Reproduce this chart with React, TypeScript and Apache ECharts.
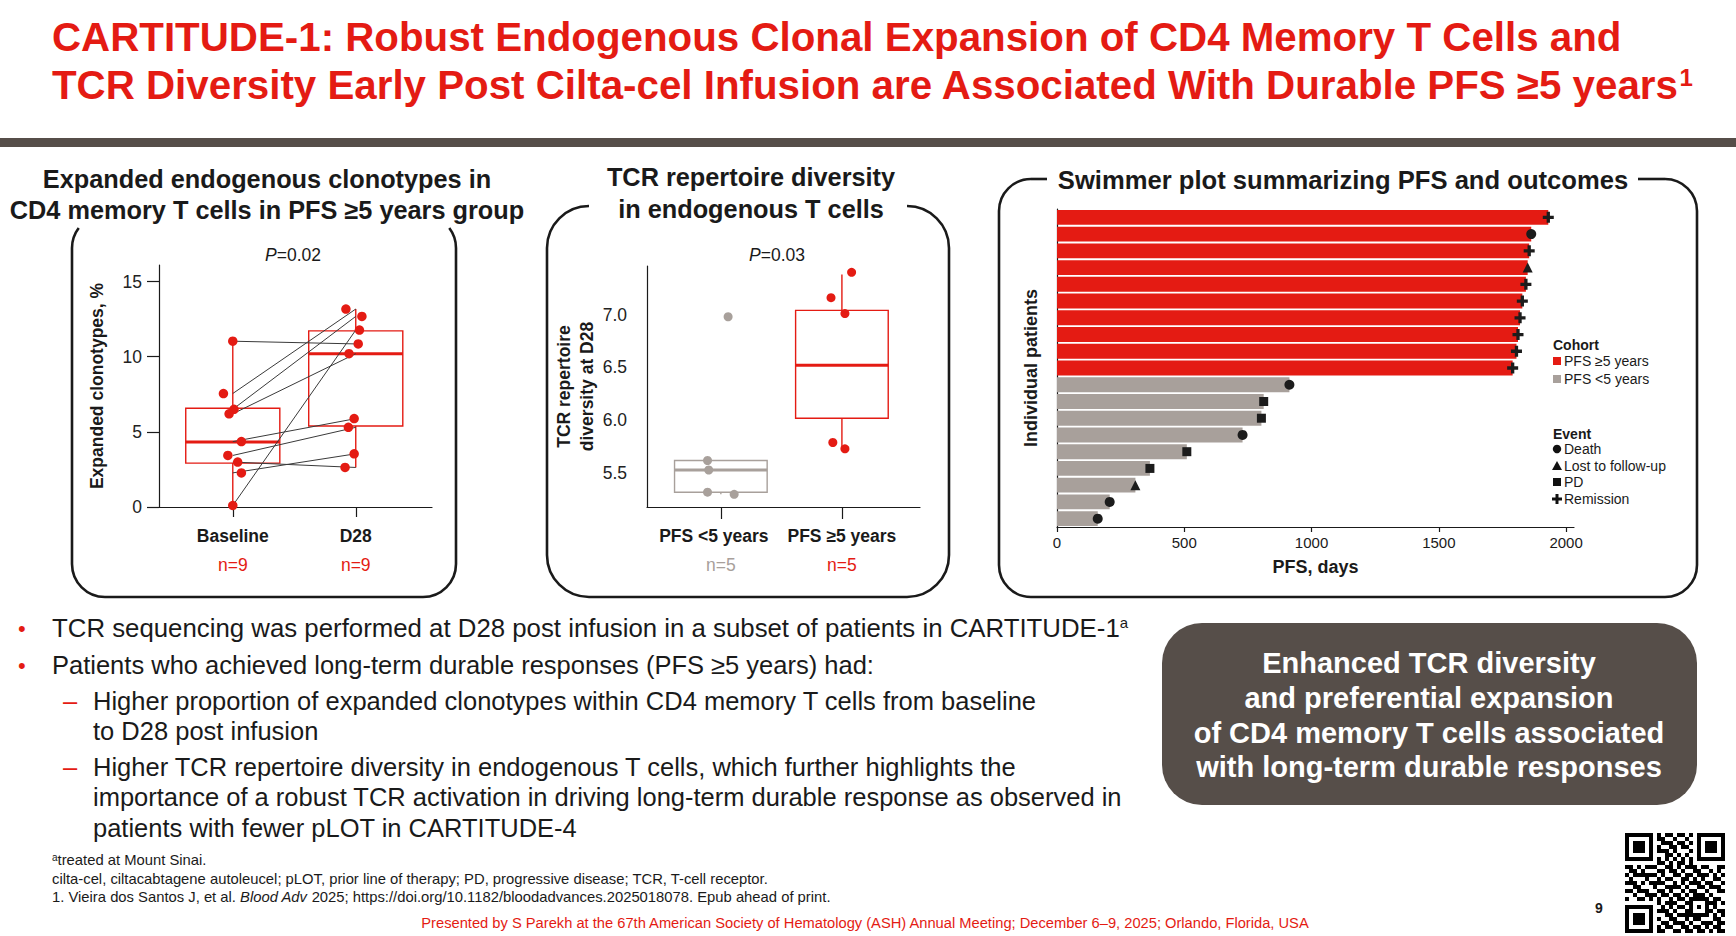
import React, { useEffect, useRef } from 'react';
import * as echarts from 'echarts';

const RED = '#e41b13';
const GRAY = '#a8a09b';
const DARK = '#564e49';
const INK = '#1a1a1a';
const FONT = '"Liberation Sans", Arial, Helvetica, sans-serif';

// ---------- Panel 1: expanded clonotypes (paired by patient) ----------
const clonoCategories = ['Baseline', 'D28'];
const clonoCounts = ['n=9', 'n=9'];
const clonoTicks = [0, 5, 10, 15];
const clonoBaseline = [11.03, 7.55, 6.5, 6.2, 4.35, 3.43, 2.99, 2.27, 0.1];
const clonoD28 = [10.85, 13.17, 12.68, 10.2, 5.88, 5.3, 2.63, 3.54, 11.77];
const clonoBaselineJitter = [0, -0.076, 0.01, -0.03, 0.07, -0.04, 0.04, 0.07, 0];
const clonoD28Jitter = [0.02, -0.08, 0.05, -0.055, -0.013, -0.06, -0.087, -0.013, 0.03];
const clonoBaselineBox = [0.1, 2.92, 4.32, 6.57, 11.03];
const clonoD28Box = [2.63, 5.39, 10.19, 11.72, 13.17];

// ---------- Panel 2: TCR repertoire diversity ----------
const divCategories = ['PFS <5 years', 'PFS ≥5 years'];
const divCounts = ['n=5', 'n=5'];
const divTicks = [5.5, 6.0, 6.5, 7.0];
const divShort = [6.98, 5.62, 5.53, 5.32, 5.3];
const divShortJitter = [0.06, -0.11, -0.1, -0.11, 0.11];
const divLong = [7.4, 7.16, 7.01, 5.79, 5.73];
const divLongJitter = [0.08, -0.09, 0.025, -0.075, 0.025];
const divShortBox = [5.3, 5.32, 5.53, 5.62, 5.62];
const divLongBox = [5.73, 6.02, 6.52, 7.04, 7.38];

// ---------- Panel 3: swimmer plot ----------
const patients = ['1', '2', '3', '4', '5', '6', '7', '8', '9', '10', '11', '12', '13', '14', '15', '16', '17', '18', '19'];
const pfsDays = [1930, 1863, 1855, 1849, 1842, 1828, 1819, 1811, 1805, 1790, 913, 812, 803, 729, 510, 365, 308, 207, 160];
const cohorts = ['≥5', '≥5', '≥5', '≥5', '≥5', '≥5', '≥5', '≥5', '≥5', '≥5', '<5', '<5', '<5', '<5', '<5', '<5', '<5', '<5', '<5'];
const events = ['Remission', 'Death', 'Remission', 'Lost to follow-up', 'Remission', 'Remission', 'Remission', 'Remission', 'Remission', 'Remission', 'Death', 'PD', 'PD', 'Death', 'PD', 'PD', 'Lost to follow-up', 'Death', 'Death'];
const pfsTicks = [0, 500, 1000, 1500, 2000];
const eventTypes = ['Death', 'Lost to follow-up', 'PD', 'Remission'];
const cohortLabels = ['PFS ≥5 years', 'PFS <5 years'];

const PLUS = 'path://M3.5,0H6.5V3.5H10V6.5H6.5V10H3.5V6.5H0V3.5H3.5Z';
const eventSymbols: Record<string, string> = { Death: 'circle', 'Lost to follow-up': 'triangle', PD: 'rect', Remission: PLUS };

const QR_ROWS = [
  '1111111010110110101111111',
  '1000001011001001001000001',
  '1011101001110110101011101',
  '1011101010011011001011101',
  '1011101011101000101011101',
  '1000001000110101001000001',
  '1111111010101010101111111',
  '0000000011010110100000000',
  '1101011100110101110110011',
  '0110100011011010011001010',
  '1011111101001101101110101',
  '0100010010110011010100110',
  '1110101111001010111011001',
  '0011000100111101001101110',
  '1101110011010010110010011',
  '0010011101101101011101000',
  '1001101010010110111110110',
  '0000000010111001100011101',
  '1111111001010110101010100',
  '1000001011101001100011011',
  '1011101000110111111110101',
  '1011101010011001011000110',
  '1011101001101110100111011',
  '1000001010110011011010110',
  '1111111011001101101101011',
];

const BOX_W = 0.765;

function boxRenderer(colors: string[]) {
  return (params: any, api: any) => {
    const x = api.value(0);
    const pLo = api.coord([x, api.value(1)]);
    const pQ1 = api.coord([x, api.value(2)]);
    const pMed = api.coord([x, api.value(3)]);
    const pQ3 = api.coord([x, api.value(4)]);
    const pHi = api.coord([x, api.value(5)]);
    const w = api.size([BOX_W, 0])[0];
    const c = colors[params.dataIndex];
    const cx = pMed[0];
    return {
      type: 'group',
      children: [
        { type: 'line', shape: { x1: cx, y1: pLo[1], x2: cx, y2: pQ1[1] }, style: { stroke: c, lineWidth: 1.4 } },
        { type: 'line', shape: { x1: cx, y1: pQ3[1], x2: cx, y2: pHi[1] }, style: { stroke: c, lineWidth: 1.4 } },
        { type: 'rect', shape: { x: cx - w / 2, y: pQ3[1], width: w, height: pQ1[1] - pQ3[1] }, style: { fill: 'rgba(255,255,255,0)', stroke: c, lineWidth: 1.4 } },
        { type: 'line', shape: { x1: cx - w / 2, y1: pMed[1], x2: cx + w / 2, y2: pMed[1] }, style: { stroke: c, lineWidth: 3 } },
      ],
    };
  };
}

function txt(x: number, y: number, text: string, o: any = {}) {
  return {
    type: 'text',
    x,
    y,
    silent: true,
    z: 10,
    style: {
      text,
      fill: o.fill ?? INK,
      fontFamily: FONT,
      fontSize: o.size ?? 16,
      fontWeight: o.weight ?? 'normal',
      fontStyle: o.style ?? 'normal',
      align: o.align ?? 'left',
      verticalAlign: 'middle',
      rich: o.rich,
    },
  };
}

function frame(x0: number, y0: number, x1: number, y1: number, r: number, o: any) {
  const st = { stroke: INK, lineWidth: 2.6, fill: 'rgba(0,0,0,0)' };
  const els: any[] = [];
  const topArc = o.topArc ?? Math.PI / 2;
  els.push({ type: 'line', shape: { x1: x0, y1: y0 + r, x2: x0, y2: y1 - r }, style: st });
  els.push({ type: 'line', shape: { x1: x1, y1: y0 + r, x2: x1, y2: y1 - r }, style: st });
  els.push({ type: 'line', shape: { x1: x0 + r, y1: y1, x2: x1 - r, y2: y1 }, style: st });
  els.push({ type: 'arc', shape: { cx: x0 + r, cy: y1 - r, r, startAngle: Math.PI / 2, endAngle: Math.PI }, style: st });
  els.push({ type: 'arc', shape: { cx: x1 - r, cy: y1 - r, r, startAngle: 0, endAngle: Math.PI / 2 }, style: st });
  els.push({ type: 'arc', shape: { cx: x0 + r, cy: y0 + r, r, startAngle: Math.PI, endAngle: Math.PI + topArc }, style: st });
  els.push({ type: 'arc', shape: { cx: x1 - r, cy: y0 + r, r, startAngle: 2 * Math.PI - topArc, endAngle: 2 * Math.PI }, style: st });
  if (o.gapL != null) {
    els.push({ type: 'line', shape: { x1: x0 + r, y1: y0, x2: o.gapL, y2: y0 }, style: st });
    els.push({ type: 'line', shape: { x1: o.gapR, y1: y0, x2: x1 - r, y2: y0 }, style: st });
  }
  return els.map((e) => ({ ...e, silent: true, z: 5 }));
}

function qrElements(x: number, y: number, cell: number) {
  const n = QR_ROWS.length;
  const bit = (r: number, c: number) => {
    const finders = [[0, 0], [0, n - 7], [n - 7, 0]];
    for (const [fr, fc] of finders) {
      if (r >= fr - 1 && r <= fr + 7 && c >= fc - 1 && c <= fc + 7) {
        const d = Math.max(Math.abs(r - fr - 3), Math.abs(c - fc - 3));
        return d <= 3 && d !== 2;
      }
    }
    const da = Math.max(Math.abs(r - (n - 7)), Math.abs(c - (n - 7)));
    if (da <= 2) return da !== 1;
    return QR_ROWS[r][c] === '1';
  };
  const els: any[] = [];
  for (let r = 0; r < n; r++) {
    let c = 0;
    while (c < n) {
      if (bit(r, c)) {
        let e = c;
        while (e + 1 < n && bit(r, e + 1)) e++;
        els.push({ type: 'rect', silent: true, shape: { x: x + c * cell, y: y + r * cell, width: (e - c + 1) * cell, height: cell }, style: { fill: '#000' } });
        c = e + 1;
      } else c++;
    }
  }
  return els;
}

function buildOption() {
  const axisLabelRich = {
    c: { fontFamily: FONT, fontWeight: 'bold', fontSize: 17.5, color: INK, lineHeight: 29 },
    c0: { fontFamily: FONT, fontWeight: 'bold', fontSize: 17.5, color: INK, lineHeight: 29, padding: [0, 14, 0, 0] },
    r: { fontFamily: FONT, fontSize: 17.5, color: RED, lineHeight: 29 },
    g: { fontFamily: FONT, fontSize: 17.5, color: GRAY, lineHeight: 29 },
  };
  const axisLineStyle = { color: INK, width: 1.2 };

  const pairLines = clonoBaseline.map((b, i) => ({
    type: 'line',
    xAxisIndex: 0,
    yAxisIndex: 0,
    data: [[1, b], [2, clonoD28[i]]],
    symbol: 'none',
    silent: true,
    lineStyle: { color: '#3a3a3a', width: 1 },
    z: 3,
  }));

  const eventSeries = eventTypes.map((t) => ({
    type: 'scatter',
    name: t,
    xAxisIndex: 2,
    yAxisIndex: 2,
    symbol: eventSymbols[t],
    symbolSize: t === 'Remission' ? 11 : t === 'PD' ? 9 : 10,
    itemStyle: { color: '#1c1c1c', opacity: 1 },
    data: events.map((e, i) => (e === t ? [pfsDays[i], i] : null)).filter((d) => d !== null),
    z: 6,
    silent: true,
  }));

  const graphics: any[] = [];
  // header
  graphics.push({ type: 'rect', silent: true, shape: { x: 0, y: 138, width: 1736, height: 9 }, style: { fill: DARK } });
  graphics.push(txt(52, 37, 'CARTITUDE-1: Robust Endogenous Clonal Expansion of CD4 Memory T Cells and', { size: 40.3, weight: 'bold', fill: RED }));
  graphics.push(
    txt(52, 85, 'TCR Diversity Early Post Cilta-cel Infusion are Associated With Durable PFS ≥5 years{s|1}', {
      size: 40.3,
      weight: 'bold',
      fill: RED,
      rich: { s: { fontSize: 24, fontWeight: 'bold', fill: RED, fontFamily: FONT, verticalAlign: 'top' } },
    })
  );
  // panel frames
  graphics.push(...frame(72, 215, 456, 597, 33, { topArc: 0.65 }));
  graphics.push(...frame(547, 206, 949, 597, 42, {}));
  graphics.push(...frame(999, 179, 1697, 597, 32, { gapL: 1047, gapR: 1638 }));
  // panel titles
  graphics.push(txt(267, 179, 'Expanded endogenous clonotypes in', { size: 25.3, weight: 'bold', align: 'center' }));
  graphics.push(txt(267, 210, 'CD4 memory T cells in PFS ≥5 years group', { size: 25.3, weight: 'bold', align: 'center' }));
  graphics.push(txt(751, 177, 'TCR repertoire diversity', { size: 25.3, weight: 'bold', align: 'center' }));
  graphics.push(txt(751, 209, 'in endogenous T cells', { size: 25.3, weight: 'bold', align: 'center' }));
  graphics.push(txt(1343, 180, 'Swimmer plot summarizing PFS and outcomes', { size: 25.6, weight: 'bold', align: 'center' }));
  // p-values
  const itRich = { i: { fontStyle: 'italic', fontSize: 17.5, fontFamily: FONT, fill: INK } };
  graphics.push(txt(293, 255, '{i|P}=0.02', { size: 17.5, align: 'center', rich: itRich }));
  graphics.push(txt(777, 255, '{i|P}=0.03', { size: 17.5, align: 'center', rich: itRich }));
  // swimmer legend
  graphics.push(txt(1553, 345, 'Cohort', { size: 14, weight: 'bold' }));
  graphics.push({ type: 'rect', silent: true, shape: { x: 1553, y: 357, width: 8, height: 8 }, style: { fill: RED } });
  graphics.push(txt(1564, 361, cohortLabels[0], { size: 14 }));
  graphics.push({ type: 'rect', silent: true, shape: { x: 1553, y: 375, width: 8, height: 8 }, style: { fill: GRAY } });
  graphics.push(txt(1564, 379, cohortLabels[1], { size: 14 }));
  graphics.push(txt(1553, 434, 'Event', { size: 14, weight: 'bold' }));
  const evY = [449, 466, 482, 499];
  graphics.push({ type: 'circle', silent: true, shape: { cx: 1557, cy: evY[0], r: 4.2 }, style: { fill: '#111' } });
  graphics.push({ type: 'polygon', silent: true, shape: { points: [[1557, evY[1] - 5], [1562, evY[1] + 4], [1552, evY[1] + 4]] }, style: { fill: '#111' } });
  graphics.push({ type: 'rect', silent: true, shape: { x: 1553, y: evY[2] - 4, width: 8, height: 8 }, style: { fill: '#111' } });
  graphics.push({ type: 'rect', silent: true, shape: { x: 1552, y: evY[3] - 1.5, width: 10, height: 3 }, style: { fill: '#111' } });
  graphics.push({ type: 'rect', silent: true, shape: { x: 1555.5, y: evY[3] - 5, width: 3, height: 10 }, style: { fill: '#111' } });
  eventTypes.forEach((t, i) => graphics.push(txt(1564, evY[i], t, { size: 14 })));
  // bullets
  const B = 25.5;
  const supRich = { s: { fontSize: 15, fontFamily: FONT, fill: INK, verticalAlign: 'top' } };
  graphics.push(txt(18, 628, '•', { size: 22, fill: RED }));
  graphics.push(txt(52, 628, 'TCR sequencing was performed at D28 post infusion in a subset of patients in CARTITUDE-1{s|a}', { size: 25.8, rich: supRich }));
  graphics.push(txt(18, 665, '•', { size: 22, fill: RED }));
  graphics.push(txt(52, 665, 'Patients who achieved long-term durable responses (PFS ≥5 years) had:', { size: B }));
  graphics.push(txt(63, 701, '–', { size: B, fill: RED }));
  graphics.push(txt(93, 701, 'Higher proportion of expanded clonotypes within CD4 memory T cells from baseline', { size: B }));
  graphics.push(txt(93, 731, 'to D28 post infusion', { size: B }));
  graphics.push(txt(63, 767, '–', { size: B, fill: RED }));
  graphics.push(txt(93, 767, 'Higher TCR repertoire diversity in endogenous T cells, which further highlights the', { size: B }));
  graphics.push(txt(93, 797, 'importance of a robust TCR activation in driving long-term durable response as observed in', { size: B }));
  graphics.push(txt(93, 828, 'patients with fewer pLOT in CARTITUDE-4', { size: B }));
  // callout
  graphics.push({ type: 'rect', silent: true, shape: { x: 1162, y: 623, width: 535, height: 182, r: 40 }, style: { fill: DARK } });
  ['Enhanced TCR diversity', 'and preferential expansion', 'of CD4 memory T cells associated', 'with long-term durable responses'].forEach((l, i) =>
    graphics.push(txt(1429, [663, 698, 733, 767][i], l, { size: 29, weight: 'bold', fill: '#ffffff', align: 'center' }))
  );
  // footnotes
  const FN = 14.8;
  const fnRich = {
    s: { fontSize: 10, fontFamily: FONT, fill: INK, verticalAlign: 'top' },
    i: { fontSize: FN, fontFamily: FONT, fill: INK, fontStyle: 'italic' },
  };
  graphics.push(txt(52, 860, '{s|a}treated at Mount Sinai.', { size: FN, rich: fnRich }));
  graphics.push(txt(52, 879, 'cilta-cel, ciltacabtagene autoleucel; pLOT, prior line of therapy; PD, progressive disease; TCR, T-cell receptor.', { size: FN }));
  graphics.push(txt(52, 897, '1. Vieira dos Santos J, et al. {i|Blood Adv} 2025; https://doi.org/10.1182/bloodadvances.2025018078. Epub ahead of print.', { size: FN, rich: fnRich }));
  graphics.push(txt(865, 923, 'Presented by S Parekh at the 67th American Society of Hematology (ASH) Annual Meeting; December 6–9, 2025; Orlando, Florida, USA', { size: 14.7, fill: RED, align: 'center' }));
  graphics.push(txt(1599, 908, '9', { size: 14, weight: 'bold', align: 'center' }));
  graphics.push(...qrElements(1625, 833, 4));

  return {
    animation: false,
    backgroundColor: '#ffffff',
    textStyle: { fontFamily: FONT },
    grid: [
      { left: 159, top: 265, width: 273, height: 242 },
      { left: 647, top: 266, width: 273, height: 241 },
      { left: 1057, top: 209, width: 517, height: 318 },
    ],
    xAxis: [
      {
        gridIndex: 0,
        type: 'value',
        min: 0.4,
        max: 2.62,
        splitLine: { show: false },
        axisLine: { show: true, lineStyle: axisLineStyle },
        axisTick: { show: true, customValues: [1, 2], length: 10, lineStyle: axisLineStyle },
        axisLabel: {
          customValues: [1, 2],
          margin: 14,
          formatter: (v: number) => {
            const i = Math.round(v) - 1;
            return `{c|${clonoCategories[i]}}\n{r|${clonoCounts[i]}}`;
          },
          rich: axisLabelRich,
        },
      },
      {
        gridIndex: 1,
        type: 'value',
        min: 0.39,
        max: 2.645,
        splitLine: { show: false },
        axisLine: { show: true, lineStyle: axisLineStyle },
        axisTick: { show: true, customValues: [1, 2], length: 12, lineStyle: axisLineStyle },
        axisLabel: {
          customValues: [1, 2],
          margin: 14,
          formatter: (v: number) => {
            const i = Math.round(v) - 1;
            return `{${i === 0 ? 'c0' : 'c'}|${divCategories[i]}}\n{${i === 0 ? 'g' : 'r'}|${divCounts[i]}}`;
          },
          rich: axisLabelRich,
        },
      },
      {
        gridIndex: 2,
        type: 'value',
        min: 0,
        max: 2031,
        name: 'PFS, days',
        nameLocation: 'middle',
        nameGap: 31,
        nameTextStyle: { fontFamily: FONT, fontWeight: 'bold', fontSize: 18, color: INK },
        splitLine: { show: false },
        axisLine: { show: true, lineStyle: axisLineStyle },
        axisTick: { show: true, customValues: pfsTicks, length: 5, lineStyle: axisLineStyle },
        axisLabel: { customValues: pfsTicks, margin: 8, fontSize: 15, color: INK, fontFamily: FONT, formatter: (v: number) => String(v) },
      },
    ],
    yAxis: [
      {
        gridIndex: 0,
        type: 'value',
        min: 0,
        max: 16.1,
        name: 'Expanded clonotypes, %',
        nameLocation: 'middle',
        nameGap: 53,
        nameTextStyle: { fontFamily: FONT, fontWeight: 'bold', fontSize: 17.5, color: INK },
        splitLine: { show: false },
        axisLine: { show: true, lineStyle: axisLineStyle },
        axisTick: { show: true, customValues: clonoTicks, length: 12, lineStyle: axisLineStyle },
        axisLabel: { customValues: clonoTicks, margin: 17, fontSize: 17.5, color: '#222', fontFamily: FONT },
      },
      {
        gridIndex: 1,
        type: 'value',
        min: 5.18,
        max: 7.46,
        name: 'TCR repertoire\ndiversity at D28',
        nameLocation: 'middle',
        nameGap: 43,
        nameTextStyle: { fontFamily: FONT, fontWeight: 'bold', fontSize: 17.5, color: INK, lineHeight: 23 },
        splitLine: { show: false },
        axisLine: { show: true, lineStyle: axisLineStyle },
        axisTick: { show: false },
        axisLabel: { customValues: divTicks, margin: 20, fontSize: 17.5, color: '#222', fontFamily: FONT, formatter: (v: number) => v.toFixed(1) },
      },
      {
        gridIndex: 2,
        type: 'category',
        data: patients,
        inverse: true,
        name: 'Individual patients',
        nameLocation: 'middle',
        nameGap: 17,
        nameTextStyle: { fontFamily: FONT, fontWeight: 'bold', fontSize: 18, color: INK },
        axisLine: { show: true, lineStyle: axisLineStyle },
        axisTick: { show: false },
        axisLabel: { show: false },
        splitLine: { show: false },
      },
    ],
    series: [
      {
        type: 'custom',
        xAxisIndex: 0,
        yAxisIndex: 0,
        renderItem: boxRenderer([RED, RED]),
        encode: { x: 0, y: [1, 2, 3, 4, 5] },
        data: [[1, ...clonoBaselineBox], [2, ...clonoD28Box]],
        silent: true,
        z: 2,
      },
      ...pairLines,
      {
        type: 'scatter',
        xAxisIndex: 0,
        yAxisIndex: 0,
        data: clonoBaseline.map((v, i) => [1 + clonoBaselineJitter[i], v]),
        symbolSize: 9.5,
        itemStyle: { color: RED, opacity: 1 },
        z: 4,
        silent: true,
      },
      {
        type: 'scatter',
        xAxisIndex: 0,
        yAxisIndex: 0,
        data: clonoD28.map((v, i) => [2 + clonoD28Jitter[i], v]),
        symbolSize: 9.5,
        itemStyle: { color: RED, opacity: 1 },
        z: 4,
        silent: true,
      },
      {
        type: 'custom',
        xAxisIndex: 1,
        yAxisIndex: 1,
        renderItem: boxRenderer([GRAY, RED]),
        encode: { x: 0, y: [1, 2, 3, 4, 5] },
        data: [[1, ...divShortBox], [2, ...divLongBox]],
        silent: true,
        z: 2,
      },
      {
        type: 'scatter',
        xAxisIndex: 1,
        yAxisIndex: 1,
        data: divShort.map((v, i) => [1 + divShortJitter[i], v]),
        symbolSize: 9,
        itemStyle: { color: GRAY, opacity: 1 },
        z: 4,
        silent: true,
      },
      {
        type: 'scatter',
        xAxisIndex: 1,
        yAxisIndex: 1,
        data: divLong.map((v, i) => [2 + divLongJitter[i], v]),
        symbolSize: 9,
        itemStyle: { color: RED, opacity: 1 },
        z: 4,
        silent: true,
      },
      {
        type: 'bar',
        xAxisIndex: 2,
        yAxisIndex: 2,
        barCategoryGap: '11%',
        silent: true,
        data: pfsDays.map((v, i) => ({ value: v, itemStyle: { color: cohorts[i] === '≥5' ? RED : GRAY } })),
        z: 2,
      },
      ...eventSeries,
    ],
    graphic: { elements: graphics },
  };
}

export default function App() {
  const ref = useRef<HTMLDivElement>(null);
  useEffect(() => {
    document.body.style.margin = '0';
    document.body.style.overflow = 'hidden';
    const chart = echarts.init(ref.current as HTMLDivElement, null, { renderer: 'svg' });
    chart.setOption(buildOption() as any);
    return () => chart.dispose();
  }, []);
  return <div ref={ref} style={{ position: 'absolute', left: 0, top: 0, width: 1736, height: 936, background: '#fff' }} />;
}
